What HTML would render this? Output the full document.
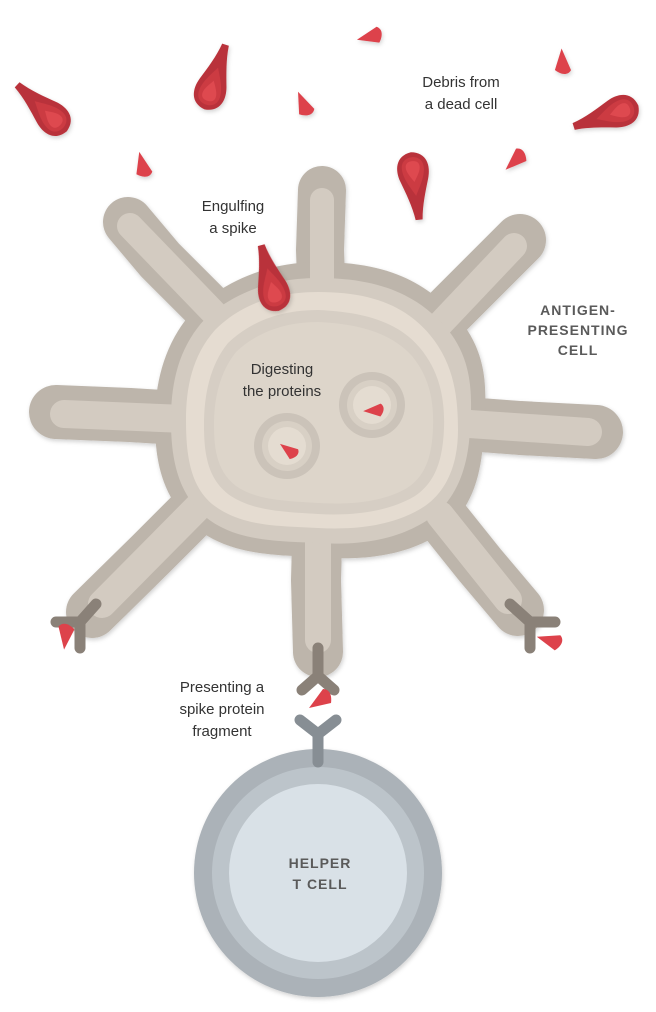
<!DOCTYPE html>
<html><head><meta charset="utf-8"><style>
html,body{margin:0;padding:0;background:#fff;}
svg{display:block;}
text{font-family:"Liberation Sans",sans-serif;}
.l{font-size:15px;fill:#333;text-anchor:middle;}
.b{font-size:14px;font-weight:bold;fill:#5a5a5a;text-anchor:middle;letter-spacing:1px;}
</style></head><body>
<svg width="656" height="1012" viewBox="0 0 656 1012" xmlns="http://www.w3.org/2000/svg">
<defs>
<filter id="sh" x="-20%" y="-20%" width="140%" height="140%"><feDropShadow dx="1" dy="2" stdDeviation="2" flood-color="#000" flood-opacity="0.18"/></filter>
<g id="spike">
<path d="M-3.5,-34 L3.5,-34 C5,-20 10,-6 14,6 C18,18 16,32 0,34 C-16,32 -18,18 -14,6 C-10,-6 -5,-20 -3.5,-34 Z" fill="#b9323a"/>
<path d="M0,-10 C4,-2 11,8 11,18 C11,27 4,29 0,29 C-4,29 -11,27 -11,18 C-11,8 -4,-2 0,-10 Z" fill="#cc3a43"/>
<path d="M0,4 C3,9 7,14 7,19 C7,24 3,25 0,25 C-3,25 -7,24 -7,19 C-7,14 -3,9 0,4 Z" fill="#de4850"/>
</g>
<path id="tri" d="M-8,-11 L11,3 C11,10 4,12 -3,11 Z" fill="#dd424b"/>
</defs>

<!-- debris -->
<g filter="url(#sh)">
<use href="#spike" transform="translate(42,108) rotate(-47)"/>
<use href="#spike" transform="translate(215,77) rotate(18)"/>
<use href="#spike" transform="translate(606,116) rotate(-108)"/>
<use href="#spike" transform="translate(415,186) rotate(173)"/>
<use href="#tri" transform="translate(370,36) rotate(-70)"/>
<use href="#tri" transform="translate(304,104) rotate(10)"/>
<use href="#tri" transform="translate(143,165) rotate(20)"/>
<use href="#tri" transform="translate(563,62) rotate(30)"/>
<use href="#tri" transform="translate(515,160) rotate(-100)"/>
</g>

<!-- antigen presenting cell -->
<g filter="url(#sh)">
<g stroke="#bdb5ab" stroke-linecap="round" stroke-linejoin="round" fill="none">
<path d="M128,222 L160,260 L200,300 L235,335" stroke-width="50"/>
<path d="M322,190 L320,250 L322,310" stroke-width="48"/>
<path d="M520,240 L470,290 L425,335" stroke-width="52"/>
<path d="M56,412 L130,415 L210,420" stroke-width="54"/>
<path d="M596,432 L520,428 L440,422" stroke-width="54"/>
<path d="M92,612 L150,555 L200,505" stroke-width="52"/>
<path d="M318,652 L316,580 L318,505" stroke-width="50"/>
<path d="M518,610 L480,565 L440,515" stroke-width="52"/>
</g>
<path d="M318,262 C385,262 425,280 460,320 C492,360 485,400 484,430 C482,470 475,505 445,530 C405,560 350,560 318,557 C270,555 228,555 192,525 C160,493 155,458 155,420 C155,380 166,338 197,307 C228,280 270,262 318,262 Z" fill="#bdb5ab"/>
</g>
<g stroke="#d3cbc1" stroke-linecap="round" fill="none">
<path d="M130,226 L240,340" stroke-width="26"/>
<path d="M322,200 L322,310" stroke-width="24"/>
<path d="M514,246 L425,340" stroke-width="26"/>
<path d="M64,414 L210,420" stroke-width="28"/>
<path d="M588,432 L440,422" stroke-width="28"/>
<path d="M102,604 L200,505" stroke-width="28"/>
<path d="M318,640 L318,505" stroke-width="26"/>
<path d="M508,600 L440,515" stroke-width="28"/>
</g>
<path d="M318,278 C378,278 418,294 448,330 C474,362 472,400 470,430 C468,466 458,497 432,517 C396,543 350,545 318,543 C273,541 232,541 202,514 C176,489 171,455 171,420 C171,384 178,348 205,319 C233,293 272,278 318,278 Z" fill="#d3cbc1"/>
<path d="M318,292 C370,292 405,305 430,335 C455,365 458,400 458,430 C458,462 448,490 425,506 C395,526 355,530 318,528 C275,526 240,526 212,504 C190,485 186,455 186,420 C186,388 192,356 215,330 C240,305 275,292 318,292 Z" fill="#e5dcd1"/>
<path d="M318,310 C365,312 398,322 420,348 C440,372 445,400 444,428 C443,458 436,482 415,496 C388,512 352,516 318,514 C280,512 250,510 228,494 C208,478 204,455 204,425 C204,395 210,365 228,343 C250,322 280,310 318,310 Z" fill="#d6cec4"/>
<path d="M318,322 C362,324 392,334 412,356 C430,378 434,402 433,428 C432,455 426,476 407,488 C383,502 350,505 318,503 C284,501 256,500 236,486 C218,472 214,452 214,425 C214,398 220,372 236,352 C256,333 284,322 318,322 Z" fill="#ddd5ca"/>
<!-- vesicles -->
<circle cx="372" cy="405" r="33" fill="#cbc3b9"/>
<circle cx="372" cy="405" r="25" fill="#d8d0c5"/>
<circle cx="372" cy="405" r="19" fill="#e4dcd1"/>
<circle cx="287" cy="446" r="33" fill="#cbc3b9"/>
<circle cx="287" cy="446" r="25" fill="#d8d0c5"/>
<circle cx="287" cy="446" r="19" fill="#e4dcd1"/>
<use href="#tri" transform="translate(374,410) rotate(-60) scale(0.8)"/>
<use href="#tri" transform="translate(289,450) rotate(-20) scale(0.8)"/>

<!-- engulfed spike -->
<use href="#spike" transform="translate(270,278) rotate(-15)" filter="url(#sh)"/>

<!-- receptors -->
<g stroke="#8a8178" stroke-linecap="round" stroke-linejoin="round" fill="none" stroke-width="11">
<path d="M96,604 L80,622 L56,622 M80,622 L80,648"/>
<path d="M510,604 L530,622 L555,622 M530,622 L530,648"/>
<path d="M318,648 L318,676 L302,690 M318,676 L334,690"/>
</g>
<use href="#tri" transform="translate(65,636) rotate(-140)"/>
<use href="#tri" transform="translate(550,640) rotate(-40)"/>
<use href="#tri" transform="translate(320,700) rotate(-90)"/>

<!-- helper T cell -->
<g filter="url(#sh)">
<circle cx="318" cy="873" r="124" fill="#abb2b8"/>
<circle cx="318" cy="873" r="106" fill="#bcc4ca"/>
<circle cx="318" cy="873" r="89" fill="#d9e1e7"/>
</g>
<g stroke="#878e94" stroke-linecap="round" stroke-linejoin="round" fill="none" stroke-width="11">
<path d="M318,762 L318,734 L300,720 M318,734 L336,720"/>
</g>

<!-- labels -->
<text class="l" x="461" y="87">Debris from</text>
<text class="l" x="461" y="109">a dead cell</text>
<text class="l" x="233" y="211">Engulfing</text>
<text class="l" x="233" y="233">a spike</text>
<text class="l" x="282" y="374">Digesting</text>
<text class="l" x="282" y="396">the proteins</text>
<text class="l" x="222" y="692">Presenting a</text>
<text class="l" x="222" y="714">spike protein</text>
<text class="l" x="222" y="736">fragment</text>
<text class="b" x="578" y="315">ANTIGEN-</text>
<text class="b" x="578" y="335">PRESENTING</text>
<text class="b" x="578" y="355">CELL</text>
<text class="b" x="320" y="868">HELPER</text>
<text class="b" x="320" y="889">T CELL</text>
</svg>
</body></html>
